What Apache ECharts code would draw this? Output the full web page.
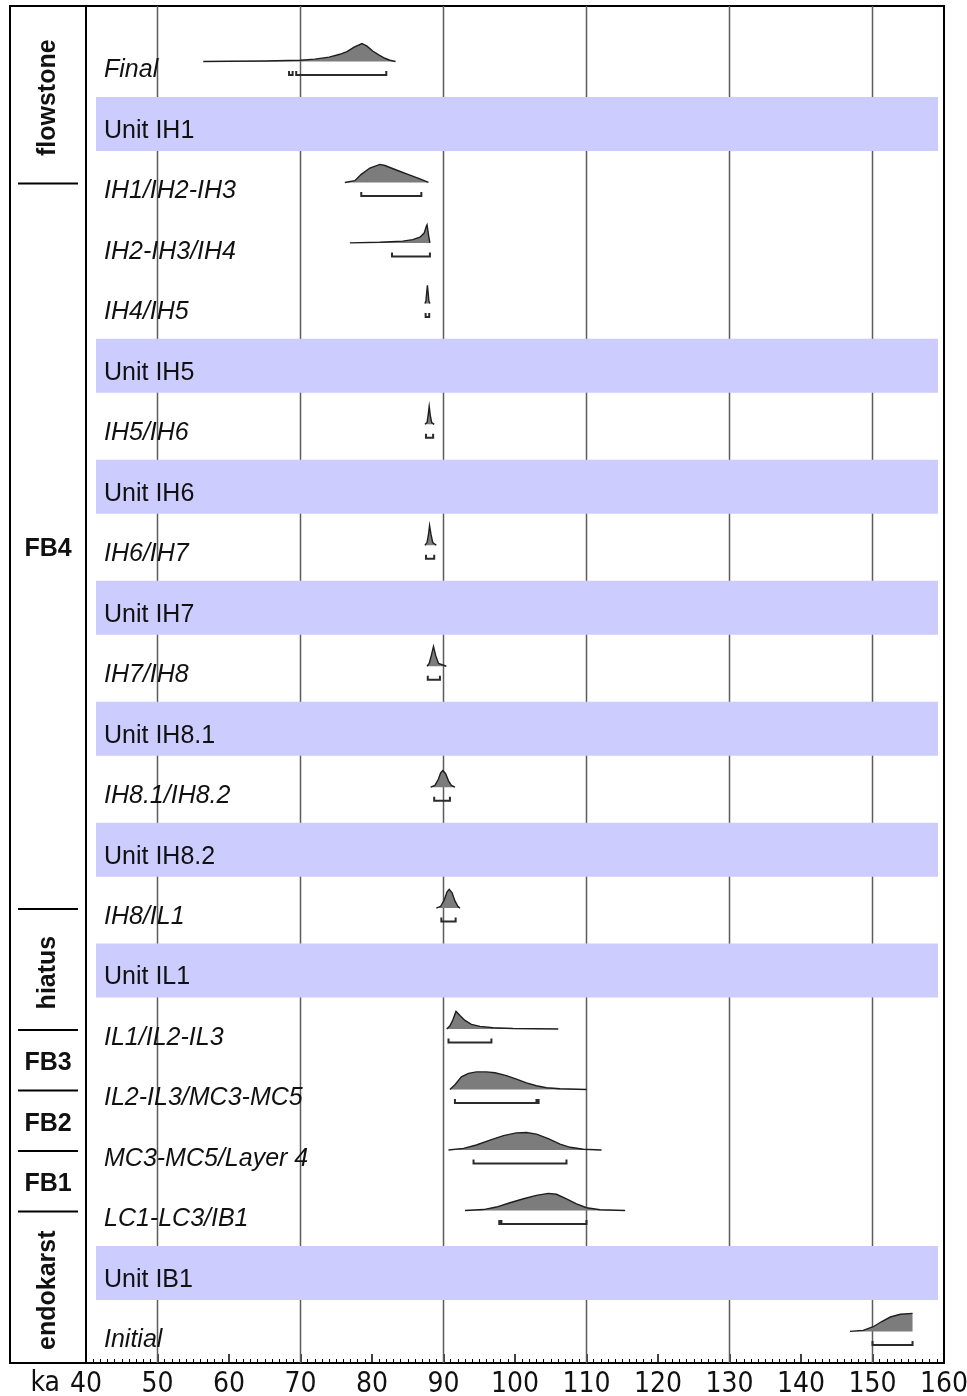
<!DOCTYPE html>
<html>
<head>
<meta charset="utf-8">
<script src="https://cdn.jsdelivr.net/npm/echarts@6/dist/echarts.min.js"></script>
<style>
  html, body { margin: 0; padding: 0; background: #ffffff; }
  #chart { width: 967px; height: 1396px; }
</style>
</head>
<body>
<div id="chart"></div>
<script>
// ---- Model sequence, listed top (youngest) to bottom (oldest) ----
const rowLabels = [
  'Final', 'Unit IH1', 'IH1/IH2-IH3', 'IH2-IH3/IH4', 'IH4/IH5', 'Unit IH5',
  'IH5/IH6', 'Unit IH6', 'IH6/IH7', 'Unit IH7', 'IH7/IH8', 'Unit IH8.1',
  'IH8.1/IH8.2', 'Unit IH8.2', 'IH8/IL1', 'Unit IL1', 'IL1/IL2-IL3',
  'IL2-IL3/MC3-MC5', 'MC3-MC5/Layer 4', 'LC1-LC3/IB1', 'Unit IB1', 'Initial'
];
const unitRows = [1, 5, 7, 9, 11, 13, 15, 20];

// Posterior densities for each boundary: [age ka, relative probability]
const distFinal = [[56.4,0],[60,0.01],[65,0.03],[70,0.07],[72,0.13],[74,0.24],[75.5,0.4],[76.5,0.55],[77.5,0.8],[78.6,1.0],[79.3,0.85],[80.1,0.58],[81,0.35],[81.8,0.18],[82.5,0.07],[83.3,0]];
const distIH1 = [[76.2,0],[77.6,0.1],[78.5,0.45],[79.7,0.8],[81.1,1.0],[81.8,0.94],[83.4,0.69],[85.3,0.41],[86.7,0.2],[87.9,0]];
const distIH2 = [[76.9,0],[81.1,0.04],[84.3,0.1],[85.7,0.18],[86.7,0.32],[87.3,0.55],[87.6,0.92],[87.7,1.0],[87.9,0.45],[88.1,0]];
const distIH4 = [[87.4,0],[87.55,0.15],[87.65,0.6],[87.75,1.0],[87.85,0.6],[87.95,0.15],[88.1,0]];
const distIH5 = [[87.4,0],[87.7,0.1],[87.85,0.5],[88.0,1.0],[88.15,0.5],[88.35,0.1],[88.7,0]];
const distIH6 = [[87.4,0],[87.7,0.15],[87.9,0.6],[88.05,1.1],[88.25,0.6],[88.5,0.15],[89.0,0]];
const distIH7 = [[87.7,0],[88.0,0.15],[88.3,0.6],[88.6,1.1],[88.9,0.6],[89.3,0.15],[90.4,0]];
const distIH81 = [[88.2,0],[88.8,0.1],[89.3,0.45],[89.6,0.8],[89.9,0.93],[90.3,0.75],[90.7,0.35],[91.1,0.1],[91.6,0]];
const distIH8 = [[89.0,0],[89.6,0.1],[90.1,0.45],[90.5,0.9],[90.8,1.04],[91.2,0.85],[91.6,0.4],[92.0,0.1],[92.3,0]];
const distIL1 = [[90.45,0],[90.9,0.18],[91.3,0.5],[91.75,0.98],[92.3,0.75],[93.0,0.48],[93.9,0.26],[95.1,0.15],[96.9,0.07],[99.7,0.03],[106.05,0]];
const distIL2 = [[90.9,0],[91.6,0.27],[92.5,0.7],[93.5,0.9],[94.6,0.98],[96.0,0.98],[97.2,0.93],[98.8,0.77],[100.2,0.58],[101.6,0.37],[103.0,0.21],[104.4,0.1],[106.3,0.04],[110.0,0]];
const distMC3 = [[90.7,0],[92.8,0.09],[94.6,0.28],[96.5,0.55],[98.4,0.8],[100.2,0.95],[101.6,0.97],[103.0,0.88],[104.65,0.63],[106.3,0.33],[107.7,0.15],[109.55,0.04],[112.1,0]];
const distLC1 = [[93.0,0],[95.6,0.05],[97.4,0.19],[99.3,0.43],[101.2,0.65],[103.0,0.84],[104.65,0.95],[105.8,0.9],[107.2,0.65],[108.6,0.37],[110.0,0.15],[111.9,0.04],[115.4,0]];
const distInitial = [[146.85,0],[148.7,0.06],[150.1,0.26],[151.3,0.55],[152.5,0.8],[153.9,0.95],[155.6,1.0]];

// 95.4% highest posterior density ranges (ka)
const rangeFinal = [[68.4,68.9],[69.4,82.0]];
const rangeIH1 = [[78.5,86.9]];
const rangeIH2 = [[82.8,88.1]];
const rangeIH4 = [[87.5,88.0]];
const rangeIH5 = [[87.55,88.55]];
const rangeIH6 = [[87.55,88.7]];
const rangeIH7 = [[87.8,89.5]];
const rangeIH81 = [[88.7,90.9]];
const rangeIH8 = [[89.7,91.7]];
const rangeIL1 = [[90.7,96.7]];
const rangeIL2 = [[91.6,103.0],[103.1,103.3]];
const rangeMC3 = [[94.2,107.2]];
const rangeLC1 = [[97.8,98.0],[98.1,110.0]];
const rangeInitial = [[150.0,155.6]];

const boundaryRows = [0, 2, 3, 4, 6, 8, 10, 12, 14, 16, 17, 18, 19, 21];
const boundaryDists = [distFinal, distIH1, distIH2, distIH4, distIH5, distIH6, distIH7, distIH81, distIH8, distIL1, distIL2, distMC3, distLC1, distInitial];
const boundaryRanges = [rangeFinal, rangeIH1, rangeIH2, rangeIH4, rangeIH5, rangeIH6, rangeIH7, rangeIH81, rangeIH8, rangeIL1, rangeIL2, rangeMC3, rangeLC1, rangeInitial];

// Stratigraphic groups in the side column (separators sit on boundary rows)
const groupNames = ['flowstone', 'FB4', 'hiatus', 'FB3', 'FB2', 'FB1', 'endokarst'];
const groupRotated = [true, false, true, false, false, false, true];
const separatorRows = [2, 14, 16, 17, 18, 19];

// Reference lines on the age axis
const gridKa = [50, 70, 90, 110, 130, 150];

const X_MIN = 40, X_MAX = 160, X_STEP = 10;
const Y_MIN = -1.05, Y_MAX = 21.39;

// ---- styling ----
const LABEL_FONT = "'Liberation Sans', Arial, sans-serif";
const AXIS_FONT = "'Liberation Sans Narrow', 'Arial Narrow', 'DejaVu Sans Condensed', sans-serif";
const BAND_COLOR = '#ccccff';
const DIST_FILL = '#7c7c7c';
const DIST_EDGE = '#1e1e1e';
const DIST_BASE = -8;   // px offset of density baseline from row centre
const DIST_H = 18;      // px for relative probability 1
const RANGE_Y = 5.5;    // px offset of range bar from row centre
const TEXT_DY = 1;      // px nudge of row names

const chart = echarts.init(document.getElementById('chart'), null, { renderer: 'canvas' });

function rowY(api, row) { return api.coord([X_MIN, row])[1]; }

const option = {
  animation: false,
  backgroundColor: '#ffffff',
  grid: [
    { left: 86, right: 23, top: 6, bottom: 33, outerBoundsMode: 'none', containLabel: false,
      show: true, borderColor: '#000', borderWidth: 2, backgroundColor: 'transparent' },
    { left: 10, width: 76, top: 6, bottom: 33, outerBoundsMode: 'none', containLabel: false,
      show: true, borderColor: '#000', borderWidth: 2, backgroundColor: 'transparent' }
  ],
  xAxis: [
    {
      type: 'value', gridIndex: 0, min: X_MIN, max: X_MAX, interval: X_STEP,
      name: 'ka', nameLocation: 'start', nameGap: 26,
      nameTextStyle: { fontFamily: AXIS_FONT, fontSize: 28, color: '#111', verticalAlign: 'top', padding: [7, 0, 0, 0] },
      axisLine: { show: true, onZero: false, lineStyle: { color: '#000', width: 2 } },
      axisTick: { show: true, inside: true, length: 9, lineStyle: { color: '#000', width: 1.5 } },
      minorTick: { show: true, splitNumber: 10, length: 4, lineStyle: { color: '#000', width: 1 } },
      splitLine: { show: false },
      axisLabel: { fontFamily: AXIS_FONT, fontSize: 28, color: '#111', margin: 8 }
    },
    { type: 'value', gridIndex: 1, min: 0, max: 1, show: false }
  ],
  yAxis: [
    { type: 'value', gridIndex: 0, inverse: true, min: Y_MIN, max: Y_MAX, show: false },
    { type: 'value', gridIndex: 1, inverse: true, min: Y_MIN, max: Y_MAX, show: false }
  ],
  series: [
    // vertical reference lines
    {
      type: 'custom', xAxisIndex: 0, yAxisIndex: 0, z: 1, silent: true,
      data: gridKa.map(v => [v, 0]),
      renderItem(params, api) {
        const cs = params.coordSys;
        const x = api.coord([api.value(0), 0])[0];
        return { type: 'line', shape: { x1: x, y1: cs.y, x2: x, y2: cs.y + cs.height },
                 style: { stroke: '#5c5c5c', lineWidth: 1.5 } };
      }
    },
    // shaded unit bands
    {
      type: 'custom', xAxisIndex: 0, yAxisIndex: 0, z: 2, silent: true,
      data: unitRows.map(r => [X_MIN, r]),
      renderItem(params, api) {
        const cs = params.coordSys;
        const y = rowY(api, api.value(1));
        return { type: 'rect', shape: { x: cs.x + 10, y: y - 33, width: cs.width - 16, height: 54 },
                 style: { fill: BAND_COLOR } };
      }
    },
    // row names
    {
      type: 'custom', xAxisIndex: 0, yAxisIndex: 0, z: 3, silent: true,
      data: rowLabels.map((t, i) => [X_MIN, i]),
      renderItem(params, api) {
        const cs = params.coordSys;
        const i = params.dataIndex;
        const isUnit = unitRows.indexOf(i) >= 0;
        return { type: 'text', x: cs.x + 18, y: rowY(api, i) + TEXT_DY,
                 style: { text: rowLabels[i], fill: '#111', font: (isUnit ? '' : 'italic ') + '25px ' + LABEL_FONT,
                          textAlign: 'left', textVerticalAlign: 'middle' } };
      }
    },
    // boundary probability densities and ranges
    {
      type: 'custom', xAxisIndex: 0, yAxisIndex: 0, z: 4, silent: true,
      data: boundaryRows.map((r, i) => [boundaryRanges[i][0][0], r]),
      renderItem(params, api) {
        const i = params.dataIndex;
        const row = boundaryRows[i];
        const yc = rowY(api, row);
        const base = yc + DIST_BASE;
        const top = boundaryDists[i].map(p => [api.coord([p[0], row])[0], base - p[1] * DIST_H]);
        const poly = top.concat([[top[top.length - 1][0], base], [top[0][0], base]]);
        const children = [
          { type: 'polygon', shape: { points: poly }, style: { fill: DIST_FILL } },
          { type: 'polyline', shape: { points: top }, style: { stroke: DIST_EDGE, lineWidth: 1.4, fill: null } }
        ];
        const yr = yc + RANGE_Y;
        boundaryRanges[i].forEach(rg => {
          const x1 = api.coord([rg[0], row])[0];
          const x2 = api.coord([rg[1], row])[0];
          children.push({ type: 'polyline',
            shape: { points: [[x1, yr - 4], [x1, yr], [x2, yr], [x2, yr - 4]] },
            style: { stroke: '#2b2b2b', lineWidth: 2, fill: null } });
        });
        return { type: 'group', children };
      }
    },
    // side column: separators
    {
      type: 'custom', xAxisIndex: 1, yAxisIndex: 1, z: 4, silent: true,
      data: separatorRows.map(r => [0.5, r]),
      renderItem(params, api) {
        const cs = params.coordSys;
        const y = api.coord([0, api.value(1)])[1] - 7;
        return { type: 'line', shape: { x1: cs.x + 8, y1: y, x2: cs.x + cs.width - 8, y2: y },
                 style: { stroke: '#000', lineWidth: 2 } };
      }
    },
    // side column: group names
    {
      type: 'custom', xAxisIndex: 1, yAxisIndex: 1, z: 4, silent: true,
      data: groupNames.map((n, i) => [0.5, i]),
      renderItem(params, api) {
        const cs = params.coordSys;
        const i = params.dataIndex;
        const y0 = i === 0 ? cs.y : api.coord([0, separatorRows[i - 1]])[1] - 7;
        const y1 = i === groupNames.length - 1 ? cs.y + cs.height : api.coord([0, separatorRows[i]])[1] - 7;
        const rot = groupRotated[i];
        return { type: 'text', x: cs.x + cs.width / 2, y: (y0 + y1) / 2 + 3,
                 rotation: rot ? Math.PI / 2 : 0,
                 style: { text: groupNames[i], fill: '#111', font: 'bold 25px ' + LABEL_FONT,
                          textAlign: 'center', textVerticalAlign: 'middle' } };
      }
    }
  ]
};

chart.setOption(option);
</script>
</body>
</html>
